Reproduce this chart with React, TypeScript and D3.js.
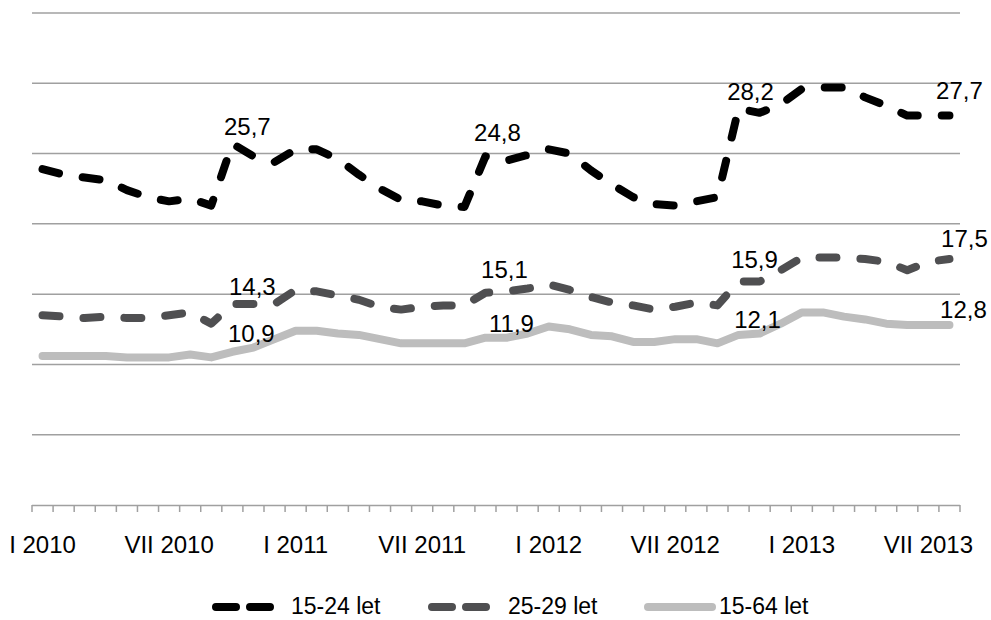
import React from "react";
import * as d3 from "d3";

const categories = [
  "I 2010", "II 2010", "III 2010", "IV 2010", "V 2010", "VI 2010", "VII 2010", "VIII 2010", "IX 2010", "X 2010", "XI 2010", "XII 2010",
  "I 2011", "II 2011", "III 2011", "IV 2011", "V 2011", "VI 2011", "VII 2011", "VIII 2011", "IX 2011", "X 2011", "XI 2011", "XII 2011",
  "I 2012", "II 2012", "III 2012", "IV 2012", "V 2012", "VI 2012", "VII 2012", "VIII 2012", "IX 2012", "X 2012", "XI 2012", "XII 2012",
  "I 2013", "II 2013", "III 2013", "IV 2013", "V 2013", "VI 2013", "VII 2013", "VIII 2013",
];

const tickLabels = ["I 2010", "VII 2010", "I 2011", "VII 2011", "I 2012", "VII 2012", "I 2013", "VII 2013"];

const seriesNames = ["15-24 let", "25-29 let", "15-64 let"];

const values1524 = [
  23.9, 23.5, 23.3, 23.1, 22.4, 21.9, 21.6, 21.8, 21.3, 25.7, 24.8, 24.4,
  25.3, 25.3, 24.6, 23.5, 22.5, 21.7, 21.6, 21.3, 21.2, 24.8, 24.5, 24.9,
  25.3, 25.0, 23.8, 22.8, 21.9, 21.4, 21.3, 21.6, 21.9, 28.2, 27.9, 28.5,
  29.6, 29.7, 29.7, 29.0, 28.4, 27.7, 27.7, 27.7,
];

const values2529 = [
  13.5, 13.4, 13.3, 13.4, 13.3, 13.3, 13.5, 13.7, 12.9, 14.3, 14.3, 14.3,
  15.3, 15.2, 14.9, 14.6, 14.1, 13.9, 14.1, 14.2, 14.2, 15.1, 15.2, 15.4,
  15.7, 15.3, 14.8, 14.4, 14.2, 13.9, 14.1, 14.4, 14.2, 15.9, 15.9, 16.7,
  17.6, 17.6, 17.6, 17.5, 17.3, 16.7, 17.3, 17.5,
];

const values1564 = [
  10.6, 10.6, 10.6, 10.6, 10.5, 10.5, 10.5, 10.7, 10.5, 10.9, 11.2, 11.8,
  12.4, 12.4, 12.2, 12.1, 11.8, 11.5, 11.5, 11.5, 11.5, 11.9, 11.9, 12.2,
  12.7, 12.5, 12.1, 12.0, 11.6, 11.6, 11.8, 11.8, 11.5, 12.1, 12.2, 12.9,
  13.7, 13.7, 13.4, 13.2, 12.9, 12.8, 12.8, 12.8,
];

const labelIndices = [9, 21, 33, 43];
const yTicks = [0, 5, 10, 15, 20, 25, 30, 35];

// label nudges (dx, dy of baseline) per series, per labelled index
const labelNudges = [
  [[15, -9], [12, -15], [12, -9], [10, -17]],
  [[20, -9], [19, -15], [16, -13], [15, -12]],
  [[19, -10], [26, -6], [19, -7], [14, -7]],
];

const FONT = "'Liberation Sans', Arial, Helvetica, sans-serif";

export default function App() {
  const W = 991;
  const H = 620;
  const x = d3.scaleBand<string>().domain(categories).range([32, 960]).padding(0);
  const y = d3.scaleLinear().domain([0, 35]).range([505, 13]);
  const bw = x.bandwidth();
  const cx = (i: number) => (x(categories[i]) as number) + bw / 2;
  const line = d3
    .line<number>()
    .x((_, i) => cx(i))
    .y((d) => y(d))
    .curve(d3.curveLinear);

  const series = [
    { name: seriesNames[0], values: values1524, color: "#000000", width: 8, dash: "17 24" },
    { name: seriesNames[1], values: values2529, color: "#4f4f51", width: 8, dash: "17 24" },
    { name: seriesNames[2], values: values1564, color: "#bdbdbd", width: 8, dash: null as string | null },
  ];

  const fmt = (v: number) => d3.format(".1f")(v).replace(".", ",");

  const legendItems = [
    { s: series[0], x0: 216, x1: 284, tx: 291, dash: "20 14" },
    { s: series[1], x0: 432, x1: 500, tx: 508, dash: "20 14" },
    { s: series[2], x0: 648, x1: 712, tx: 719, dash: null as string | null },
  ];

  const drawOrder = [2, 1, 0];

  return (
    <svg
      width={W}
      height={H}
      style={{ position: "absolute", left: 0, top: 0, background: "#fff" }}
      fontFamily={FONT}
    >
      <rect x={0} y={0} width={W} height={H} fill="#ffffff" />
      {/* gridlines */}
      {yTicks.slice(1).map((t) => (
        <line key={t} x1={32} x2={960} y1={y(t)} y2={y(t)} stroke="#a0a0a0" strokeWidth={1.5} />
      ))}
      {/* x axis */}
      <line x1={32} x2={960} y1={y(0) + 0.5} y2={y(0) + 0.5} stroke="#a0a0a0" strokeWidth={1.5} />
      {d3.range(categories.length + 1).map((i) => {
        const xx = 32 + i * bw;
        return <line key={i} x1={xx} x2={xx} y1={y(0)} y2={y(0) + 7} stroke="#a0a0a0" strokeWidth={1.5} />;
      })}
      {tickLabels.map((t) => (
        <text key={t} x={cx(categories.indexOf(t))} y={553} textAnchor="middle" fontSize={24} fill="#000">
          {t}
        </text>
      ))}
      {/* lines */}
      {drawOrder.map((k) => {
        const s = series[k];
        return (
          <path
            key={s.name}
            d={line(s.values) || ""}
            fill="none"
            stroke={s.color}
            strokeWidth={s.width}
            strokeLinecap="round"
            strokeLinejoin="round"
            strokeDasharray={s.dash || undefined}
          />
        );
      })}
      {/* data labels */}
      {series.map((s, k) =>
        labelIndices.map((i, j) => (
          <text
            key={s.name + i}
            x={cx(i) + labelNudges[k][j][0]}
            y={y(s.values[i]) + labelNudges[k][j][1]}
            textAnchor="middle"
            fontSize={24}
            fill="#000"
          >
            {fmt(s.values[i])}
          </text>
        ))
      )}
      {/* legend */}
      {legendItems.map((it) => (
        <g key={it.s.name}>
          <line
            x1={it.x0}
            x2={it.x1}
            y1={607}
            y2={607}
            stroke={it.s.color}
            strokeWidth={8}
            strokeLinecap="round"
            strokeDasharray={it.dash || undefined}
          />
          <text x={it.tx} y={614} fontSize={23} fill="#000">
            {it.s.name}
          </text>
        </g>
      ))}
    </svg>
  );
}
